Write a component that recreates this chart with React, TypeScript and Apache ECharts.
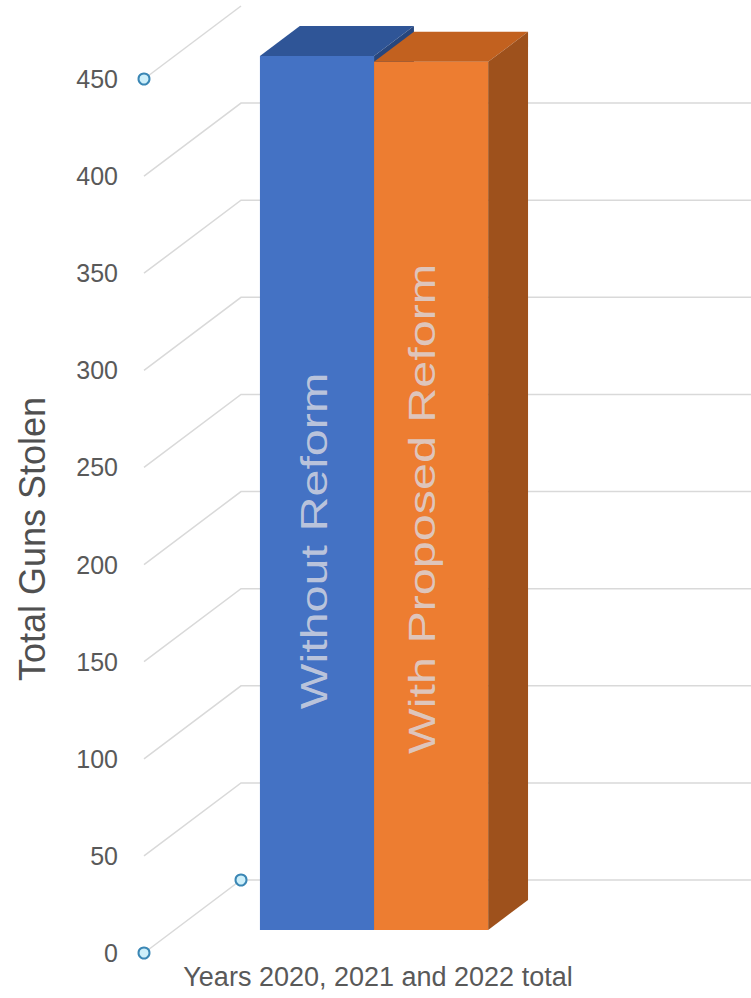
import React, { useEffect, useRef } from "react";
import * as echarts from "echarts";

// ---------- data ----------
const categories = ["Years 2020, 2021 and 2022 total"];
const seriesNames = ["Without Reform", "With Proposed Reform"];
const withoutReform = [450];
const withProposedReform = [447];
const yTickValues = [0, 50, 100, 150, 200, 250, 300, 350, 400, 450];
const yMin = 0;
const yMax = 450;
const yInterval = 50;

// ---------- styles / geometry ----------
const FONT = "'Liberation Sans', Arial, sans-serif";
const DEPTH = { dx: 97, dy: -73 }; // full depth of the 3D box (front of floor -> back wall)
const FRONT_FRAC = 0.315; // bar front plane position in depth
const BACK_FRAC = 0.726; // bar back plane position in depth
const BAR_FRACTION = 0.286; // width of one bar relative to the category band
const faceColors = [
  { front: "#4472C4", top: "#2F5597", side: "#27467D" },
  { front: "#ED7D31", top: "#C2611F", side: "#9E511C" },
];
const textOffsets = [
  { dx: -3, dy: 48 },
  { dx: -9, dy: 13 },
];
const seriesValues = [withoutReform, withProposedReform];

export default function App() {
  const ref = useRef<HTMLDivElement>(null);

  useEffect(() => {
    if (!ref.current) return;
    const chart = echarts.init(ref.current, undefined, { renderer: "svg" });

    const gridSeries: any = {
      type: "custom",
      silent: true,
      clip: false,
      z: 1,
      data: yTickValues.map((v) => [0, v]),
      renderItem: (params: any, api: any) => {
        const v = api.value(1);
        const y = api.coord([0, v])[1];
        const xf = params.coordSys.x;
        const xb = xf + DEPTH.dx;
        const yb = y + DEPTH.dy;
        const pts =
          v < yMax
            ? [
                [xf, y],
                [xb, yb],
                [api.getWidth(), yb],
              ]
            : [
                [xf, y],
                [xb, yb],
              ];
        const children: any[] = [
          {
            type: "polyline",
            shape: { points: pts },
            style: { stroke: "#d9d9d9", lineWidth: 1.5, fill: null },
          },
        ];
        const circ = (cx: number, cy: number) => ({
          type: "circle",
          shape: { cx, cy, r: 5.5 },
          style: { fill: "#cdeffa", stroke: "#3b87b5", lineWidth: 2 },
          z2: 10,
        });
        if (v === yMin) {
          children.push(circ(xf, y));
          children.push(circ(xb, yb));
        }
        if (v === yMax) {
          children.push(circ(xf, y));
        }
        return { type: "group", children };
      },
    };

    const barSeries = (i: number): any => ({
      type: "custom",
      name: seriesNames[i],
      clip: false,
      z: 2,
      data: categories.map((_, k) => [k, seriesValues[i][k]]),
      renderItem: (params: any, api: any) => {
        const cat = api.value(0);
        const val = api.value(1);
        const [cx, yTopL] = api.coord([cat, val]);
        const y0L = api.coord([cat, 0])[1];
        const band = api.size([1, 0])[0];
        const bw = band * BAR_FRACTION;
        const fdx = DEPTH.dx * FRONT_FRAC;
        const fdy = DEPTH.dy * FRONT_FRAC;
        const ddx = DEPTH.dx * (BACK_FRAC - FRONT_FRAC);
        const ddy = DEPTH.dy * (BACK_FRAC - FRONT_FRAC);
        const xL = cx - bw + i * bw + fdx;
        const xR = xL + bw;
        const yT = yTopL + fdy;
        const yB = y0L + fdy;
        const c = faceColors[i];
        const off = textOffsets[i];
        return {
          type: "group",
          children: [
            {
              type: "rect",
              shape: { x: xL, y: yT, width: bw, height: yB - yT },
              style: { fill: c.front },
            },
            {
              type: "polygon",
              shape: {
                points: [
                  [xL, yT],
                  [xL + ddx, yT + ddy],
                  [xR + ddx, yT + ddy],
                  [xR, yT],
                ],
              },
              style: { fill: c.top },
            },
            {
              type: "polygon",
              shape: {
                points: [
                  [xR, yT],
                  [xR + ddx, yT + ddy],
                  [xR + ddx, yB + ddy],
                  [xR, yB],
                ],
              },
              style: { fill: c.side },
            },
            {
              type: "text",
              x: (xL + xR) / 2 + off.dx,
              y: (yT + yB) / 2 + off.dy,
              rotation: Math.PI / 2,
              scaleX: 1.31,
              style: {
                text: seriesNames[i],
                fontSize: 37,
                fontFamily: FONT,
                fill: "rgba(218,218,226,0.8)",
                align: "center",
                verticalAlign: "middle",
              },
              z2: 20,
            },
          ],
        };
      },
    });

    const option: any = {
      animation: false,
      grid: {
        left: 144,
        right: 208,
        top: 79,
        bottom: 45,
        containLabel: false,
        outerBoundsMode: "none",
      },
      xAxis: {
        type: "category",
        data: categories,
        axisLine: { show: false },
        axisTick: { show: false },
        splitLine: { show: false },
        axisLabel: {
          fontSize: 27,
          fontFamily: FONT,
          color: "#595959",
          margin: 10,
          padding: [0, 0, 0, 69],
        },
      },
      yAxis: {
        type: "value",
        min: yMin,
        max: yMax,
        interval: yInterval,
        axisLine: { show: false },
        axisTick: { show: false },
        splitLine: { show: false },
        axisLabel: {
          fontSize: 25,
          fontFamily: FONT,
          color: "#595959",
          margin: 26,
        },
        name: "Total Guns Stolen",
        nameLocation: "middle",
        nameGap: 94,
        nameTextStyle: {
          fontSize: 36,
          fontFamily: FONT,
          color: "#505050",
          padding: [0, 46, 0, 0],
        },
      },
      series: [gridSeries, barSeries(0), barSeries(1)],
    };

    chart.setOption(option);
    return () => chart.dispose();
  }, []);

  return (
    <div
      ref={ref}
      style={{ position: "absolute", left: 0, top: 0, width: 751, height: 998, background: "#ffffff" }}
    />
  );
}
